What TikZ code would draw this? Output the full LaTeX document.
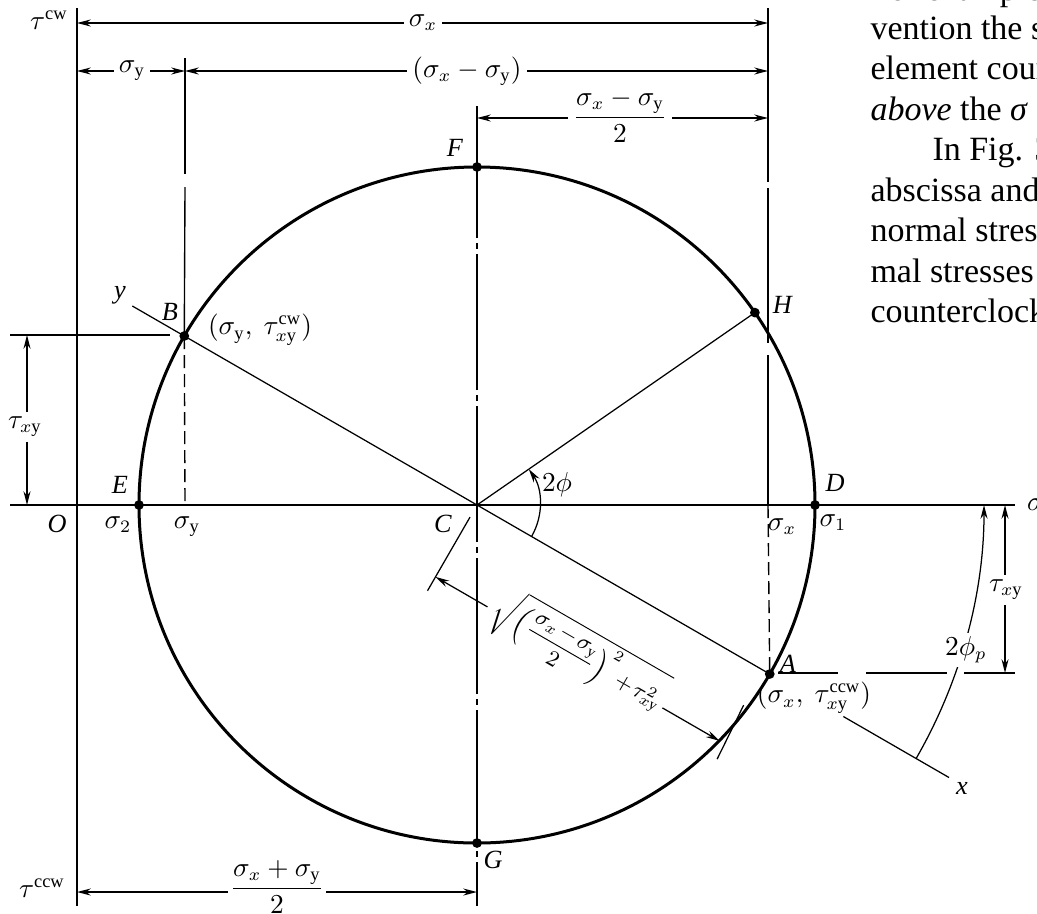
\documentclass[tikz,border=0pt]{standalone}
\usepackage{amsmath}
\usepackage{fontspec}
\setmainfont{Liberation Serif}
\usetikzlibrary{arrows.meta,calc}
\newcommand{\sgy}{\sigma_{\mathrm{y}}}
\newcommand{\sgx}{\sigma_{x}}
\newcommand{\txy}{\tau_{x\mathrm{y}}}
\begin{document}
\begin{tikzpicture}[x=0.4pt,y=-0.4pt,>={Stealth[length=5.5pt,width=2.8pt]},
  axisln/.style={line width=0.65pt},
  thinln/.style={line width=0.5pt},
  dimln/.style={line width=0.55pt},
  circln/.style={line width=1.2pt},
  dashln/.style={line width=0.55pt, dash pattern=on 5.2pt off 2.4pt},
  cline/.style={line width=0.55pt, dash pattern=on 54.4pt off 2pt on 2.4pt off 2pt, dash phase=1.6pt},
  lab/.style={font=\fontsize{10.5}{12}\selectfont, inner sep=1pt},
  dimlab/.style={lab, fill=white, inner sep=2pt},
  dotn/.style={circle, fill=black, inner sep=0pt, minimum size=3.9pt},
  body/.style={font=\fontsize{13.6}{16}\selectfont, anchor=base west, inner sep=0pt},
]
\useasboundingbox (0,0) rectangle (1037,913);

% ---- key points of the circle
\coordinate (C) at (477,505);
\coordinate (A) at ($(C)+(-30:135.2pt)$);
\coordinate (B) at ($(C)+(150:135.2pt)$);
\coordinate (H) at ($(C)+(34.7:135.2pt)$);
\coordinate (D) at ($(C)+(0:135.2pt)$);
\coordinate (E) at ($(C)+(180:135.2pt)$);
\coordinate (F) at ($(C)+(90:135.2pt)$);
\coordinate (G) at ($(C)+(-90:135.2pt)$);

% ---- axes
\coordinate (tautop) at (77,8);
\coordinate (taubot) at (77,906);
\coordinate (sigl) at (10,505);
\coordinate (sigr) at (1015,505);
\draw[axisln] (tautop) -- (taubot);
\draw[axisln] (sigl) -- (sigr);

% ---- vertical reference lines
\draw[dimln] (768,8) -- (768,182);
\draw[dimln] (768,188) -- (768,343);
\draw[dimln] (768,355) -- (768,505);
\draw[dashln] (768,505) -- (A);
\draw[dimln] (185,58) -- (185,174);
\draw[dimln] (185,187) -- (B);
\draw[dashln] (B) -- (185,505);
\draw[cline] (477,106) -- (477,906);

% ---- circle
\draw[circln] (C) circle[radius=135.2pt];

% ---- rotated axes and radius CH
\coordinate (yend) at ($(C)+(150:159.2pt)$);
\coordinate (xbeg) at ($(C)+(-30:169.2pt)$);
\coordinate (xend) at ($(C)+(-30:218pt)$);
\draw[thinln] (yend) -- (C) -- (A);
\draw[thinln] (xbeg) -- (xend);
\draw[thinln] (C) -- (H);

% ---- angle 2phi
\draw[thinln,->] ($(C)+(-30:25.2pt)$) arc[start angle=-30, end angle=34.7, radius=25.2pt];
% ---- angle 2phi_p
\draw[thinln,->] ($(C)+(-30:202.8pt)$) arc[start angle=-30, end angle=0, radius=202.8pt];
\node[dimlab, inner sep=1.5pt] (phip) at ($(C)+(-16.5:204pt)$) {$2\phi_p$};

% ---- horizontal lines at B and A
\draw[dimln] (10,335) -- (170,335);
\draw[dimln] (778,673) -- (838,673);
\draw[dimln] (866,673) -- (947,673);
\draw[dimln] (964,673) -- (1015,673);

% ---- dimension lines
\draw[dimln,<->] (77,23) -- (768,23);
\node[dimlab] (dsx) at (423,23) {$\sgx$};
\draw[dimln,<->] (77,71) -- (185,71);
\node[dimlab] (dsy) at (132,71) {$\sgy$};
\draw[dimln,<->] (185,71) -- (768,71);
\node[dimlab] (dsxy) at (467,71) {$(\sgx-\sgy)$};
\draw[dimln,<->] (477,118) -- (768,118);
\node[dimlab] (dhalf) at (620,116) {$\dfrac{\sgx-\sgy}{2}$};
\draw[dimln,<->] (77,892) -- (477,892);
\node[dimlab, inner sep=1pt] (dsum) at (277,887) {$\dfrac{\sgx+\sgy}{2}$};
\draw[dimln,<->] (27,335) -- (27,505);
\node[dimlab] (tl) at (25,427) {$\txy$};
\draw[dimln,<->] (1005,505) -- (1005,673);
\node[dimlab] (tr) at (1006,590) {$\txy$};

% ---- radius dimension
\draw[thinln] ($(C)+(-120:5.6pt)$) -- ($(C)+(-120:39.6pt)$);
\draw[thinln] ($(C)+(-30:132.4pt)+(-120:16pt)$) -- ($(C)+(-30:134pt)+(-120:40pt)$);
\draw[thinln,->] ($(C)+(-30:24pt)+(-120:33.2pt)$) -- ($(C)+(-120:33.2pt)$);
\draw[thinln,->] ($(C)+(-30:104.8pt)+(-120:33.2pt)$) -- ($(C)+(-30:131.2pt)+(-120:33.2pt)$);
\node[lab, font=\fontsize{9}{11}\selectfont, rotate=-30] (rad) at ($(C)+(-30:65pt)+(-120:31pt)$)
  {$\medmuskip=2mu\sqrt{\left(\dfrac{\sgx-\sgy}{2}\right)^{2}+\txy^{2}}$};

% ---- points
\foreach \p in {A,B,D,E,F,G,H} \node[dotn] (\p dot) at (\p) {};

% ---- labels
\node[lab] (tcw) at (49,20) {$\tau^{\mathrm{cw}}$};
\node[lab] (tccw) at (42,888) {$\tau^{\mathrm{ccw}}$};
\node[lab] (Ol) at (57,524) {\textit{O}};
\node[lab] (s2) at (118,525) {$\sigma_2$};
\node[lab] (syl) at (187,527) {$\sgy$};
\node[lab] (Cl) at (443,524) {\textit{C}};
\node[lab] (sxl) at (782,527) {$\sgx$};
\node[lab] (s1) at (833,523) {$\sigma_1$};
\node[lab] (El) at (120,485) {\textit{E}};
\node[lab] (Dl) at (835,483) {\textit{D}};
\node[lab] (Bl) at (170,312) {\textit{B}};
\node[lab] (Hl) at (783,305) {\textit{H}};
\node[lab] (Fl) at (455,148) {\textit{F}};
\node[lab] (Gl) at (493,860) {\textit{G}};
\node[lab] (Al) at (788,664) {\textit{A}};
\node[lab] (Bc) at (260,330) {$(\sgy,\ \txy^{\mathrm{cw}})$};
\node[lab] (Ac) at (814,698) {$(\sgx,\ \txy^{\mathrm{ccw}})$};
\node[lab] (yl) at (120,295) {\textit{y}};
\node[lab] (xl) at (962,788) {\textit{x}};
\node[lab] (phil) at (557,485) {$2\phi$};
\node[lab, anchor=west] (sigl2) at (1024,505) {$\sigma$};

% ---- running text of the page (cut by the page edge)
\node[body] (t1) at (870,0) {For example, with};
\node[body] (t2) at (870,39) {vention the shear};
\node[body] (t3) at (870,79.5) {element counterclockwise};
\node[body] (t4) at (870,120) {\textit{above} the \textit{σ} axis};
\node[body] (t5) at (932,160.5) {In Fig. 3.14};
\node[body] (t6) at (870,201) {abscissa and};
\node[body] (t7) at (870,241.5) {normal stresses};
\node[body] (t8) at (870,282) {mal stresses are};
\node[body] (t9) at (870,322.5) {counterclockwise};
\end{tikzpicture}
\end{document}
